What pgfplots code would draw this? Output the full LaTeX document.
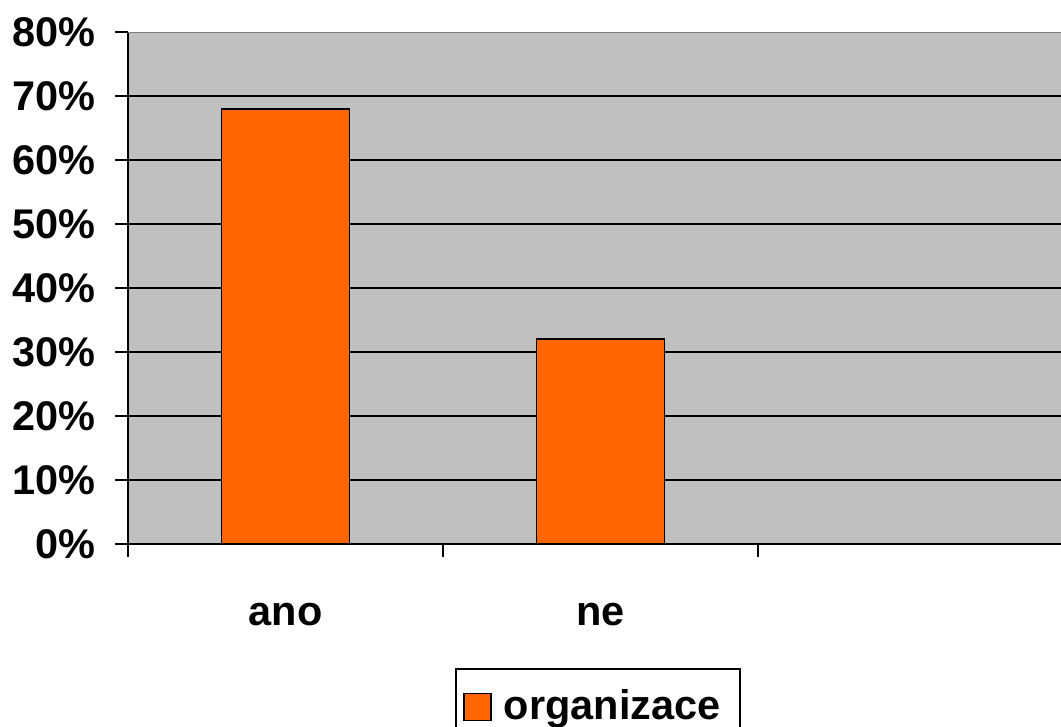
\documentclass[border=0pt]{standalone}
\usepackage{fontspec}
\setmainfont{Liberation Sans}
\usepackage{pgfplots}
\pgfplotsset{compat=1.18}
\definecolor{barorange}{HTML}{FF6600}
\definecolor{plotgray}{HTML}{C0C0C0}
\definecolor{bordergray}{HTML}{808080}

\begin{document}
\begin{tikzpicture}
\begin{axis}[
  at={(0,0)}, anchor=south west,
  scale only axis,
  width=9.40cm, height=5.12cm,
  xmin=-0.5, xmax=2.484,
  ymin=0, ymax=80,
  axis background/.style={fill=plotgray},
  axis lines*=left,
  axis line style={-, black, line width=0.6pt},
  tick align=outside,
  major tick length=0.13cm,
  tick style={black, line width=0.45pt},
  ytick={0,10,20,30,40,50,60,70},
  yticklabels={0\%,10\%,20\%,30\%,40\%,50\%,60\%,70\%},
  extra y ticks={80},
  extra y tick labels={80\%},
  extra y tick style={grid=none},
  ymajorgrids=true,
  grid style={black, line width=0.45pt},
  xtick={-0.5,0.5,1.5},
  xticklabels={},
  extra x ticks={0,1},
  extra x tick labels={ano,ne},
  extra x tick style={major tick length=0pt, xticklabel style={anchor=base, yshift=-0.81cm}},
  ticklabel style={font=\fontsize{11.8}{14}\selectfont\bfseries},
  yticklabel style={anchor=east, xshift=-0.07cm},
  ybar, bar width=1.28cm, bar shift=0pt,
  legend style={at={(0.5,-0.242)}, anchor=north, draw=black, line width=0.5pt,
    font=\fontsize{11.8}{14}\selectfont\bfseries, inner xsep=2pt, inner ysep=4pt,
    nodes={inner xsep=3.5pt}},
  legend image code/.code={\draw[#1, draw=black, line width=0.4pt] (0cm,-0.13cm) rectangle (0.27cm,0.14cm);},
]
\addplot[fill=barorange, draw=black, line width=0.45pt] coordinates {(0,68) (1,32)};
\legend{organizace}
\draw[bordergray, line width=0.6pt] (rel axis cs:0,1) -- (rel axis cs:1,1);
\end{axis}
\pgfresetboundingbox
\path[use as bounding box] (-1.28,-1.82) rectangle (9.33,5.44);
\end{tikzpicture}
\end{document}
